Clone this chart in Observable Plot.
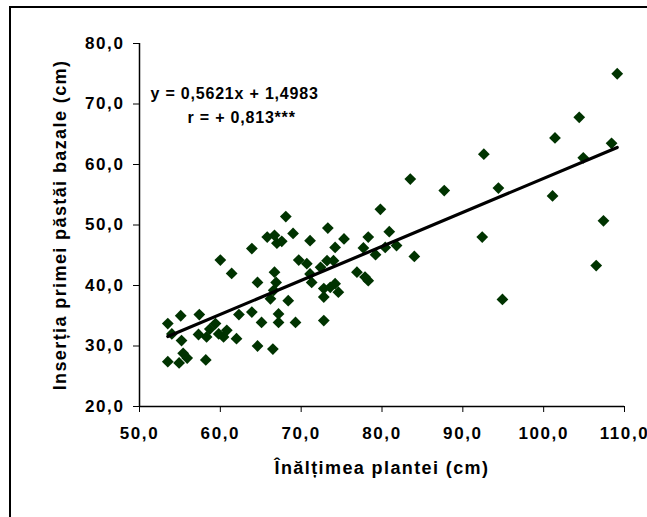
<!DOCTYPE html>
<html>
<head>
<meta charset="utf-8">
<script src="https://cdn.jsdelivr.net/npm/d3@7"></script>
<script src="https://cdn.jsdelivr.net/npm/@observablehq/plot@0.6"></script>
<style>
  html, body { margin: 0; padding: 0; background: #fff; overflow: hidden; }
  #wrap { position: relative; width: 647px; height: 517px; overflow: hidden; }
  #frameLeft { position: absolute; left: 9px; top: 6px; width: 2px; height: 511px; background: #000; }
  #frameTop { position: absolute; left: 9px; top: 6px; width: 638px; height: 2px; background: #000; }
  #chart { position: absolute; left: 0; top: 0; }
  g[aria-label="x-axis tick label"] text, g[aria-label="y-axis tick label"] text { font-size: 17px; letter-spacing: 1.6px; }
  g[aria-label="x-axis label"] text, g[aria-label="y-axis label"] text { font-size: 18px; letter-spacing: 1.4px; }
  g.eq text { letter-spacing: 0.8px; }
</style>
</head>
<body>
<div id="wrap"><div id="frameLeft"></div><div id="frameTop"></div><div id="chart"></div></div>
<script>
const plantHeight = [68.1, 60.0, 61.4, 63.9, 65.8, 66.7, 67.0, 67.6, 69.0, 71.1, 73.3, 74.2, 75.3, 77.7, 78.3,
  64.6, 66.7, 66.9, 69.7, 70.7, 71.1, 71.3, 72.4, 73.2, 74.0, 72.8, 73.6, 74.2, 74.6, 72.8,
  76.9, 77.9, 78.3, 72.8, 66.6, 66.2, 68.4, 69.3, 67.2, 67.2, 65.1, 63.9, 62.3, 64.6, 66.5,
  62.0, 60.8, 60.4, 59.8, 59.4, 58.7, 58.3, 57.3, 57.4, 55.1, 53.5, 54.0, 55.2, 55.4, 55.9,
  53.5, 54.9, 58.2, 109.1, 104.4, 101.4, 108.4, 104.9, 92.6, 101.1, 94.4, 87.7, 83.5, 79.8,
  80.9, 80.4, 81.8, 79.2, 84.0, 92.4, 107.4, 106.5, 94.9];
const firstPodHeight = [51.4, 44.2, 42.0, 46.1, 48.0, 48.3, 47.0, 47.3, 48.6, 47.4, 49.5, 46.3, 47.7, 46.2, 48.0,
  40.5, 42.2, 40.5, 44.2, 43.6, 41.9, 40.5, 43.0, 44.1, 44.1, 39.5, 39.7, 40.3, 38.9, 38.1,
  42.2, 41.4, 40.8, 34.2, 39.2, 37.8, 37.5, 33.9, 35.3, 33.9, 33.9, 35.6, 35.2, 30.0, 29.5,
  31.2, 32.6, 31.5, 32.0, 33.7, 32.8, 31.5, 31.9, 35.2, 35.0, 33.7, 32.0, 30.9, 28.8, 28.0,
  27.4, 27.2, 27.7, 75.0, 67.8, 64.4, 63.5, 61.1, 61.7, 54.8, 56.1, 55.7, 57.6, 52.6,
  48.9, 46.3, 46.6, 45.1, 44.8, 48.0, 50.7, 43.3, 37.7];
const xTicks = [50, 60, 70, 80, 90, 100, 110];
const yTicks = [20, 30, 40, 50, 60, 70, 80];
const slope = 0.5621;
const intercept = 1.4983;
const equationText = "y = 0,5621x + 1,4983";
const rText = "r = + 0,813***";
const xTitle = "Înălțimea plantei (cm)";
const yTitle = "Inserția primei păstăi bazale (cm)";

const points = plantHeight.map((x, i) => ({x, y: firstPodHeight[i]}));
const [xMin, xMax] = d3.extent(plantHeight);
const fit = [xMin, xMax].map(x => ({x, y: slope * x + intercept}));
const fmt = d => d.toFixed(1).replace(".", ",");

const chart = Plot.plot({
  width: 647,
  height: 517,
  marginLeft: 139,
  marginRight: 23,
  marginTop: 43,
  marginBottom: 111,
  style: {fontFamily: "'Liberation Sans', Arial, sans-serif", fontWeight: "bold", fontSize: "17px", color: "#000", background: "transparent", overflow: "visible"},
  x: {domain: [50, 110], ticks: xTicks, tickFormat: fmt, tickSize: 6, tickPadding: 14,
      label: xTitle, labelAnchor: "center", labelOffset: 67, labelArrow: "none"},
  y: {domain: [20, 80], ticks: yTicks, tickFormat: fmt, tickSize: 6, tickPadding: 9,
      label: yTitle, labelAnchor: "center", labelOffset: 86, labelArrow: "none"},
  marks: [
    Plot.ruleX([50], {stroke: "#000", strokeWidth: 1.5}),
    Plot.ruleY([20], {stroke: "#000", strokeWidth: 1.5}),
    Plot.dot(points, {x: "x", y: "y", symbol: "diamond2", r: 5.3, fill: "#003300", stroke: "none"}),
    Plot.line(fit, {x: "x", y: "y", stroke: "#000", strokeWidth: 3.2}),
    Plot.text([equationText], {frameAnchor: "top-left", text: d => d, dx: 11, dy: 44, textAnchor: "start", fontSize: 16, fontWeight: "bold", fill: "#000"}),
    Plot.text([rText], {frameAnchor: "top-left", text: d => d, dx: 48, dy: 68, textAnchor: "start", fontSize: 16, fontWeight: "bold", fill: "#000"})
  ]
});
chart.querySelectorAll("g[aria-label='text']").forEach(g => g.classList.add("eq"));
document.getElementById("chart").appendChild(chart);
</script>
</body>
</html>
